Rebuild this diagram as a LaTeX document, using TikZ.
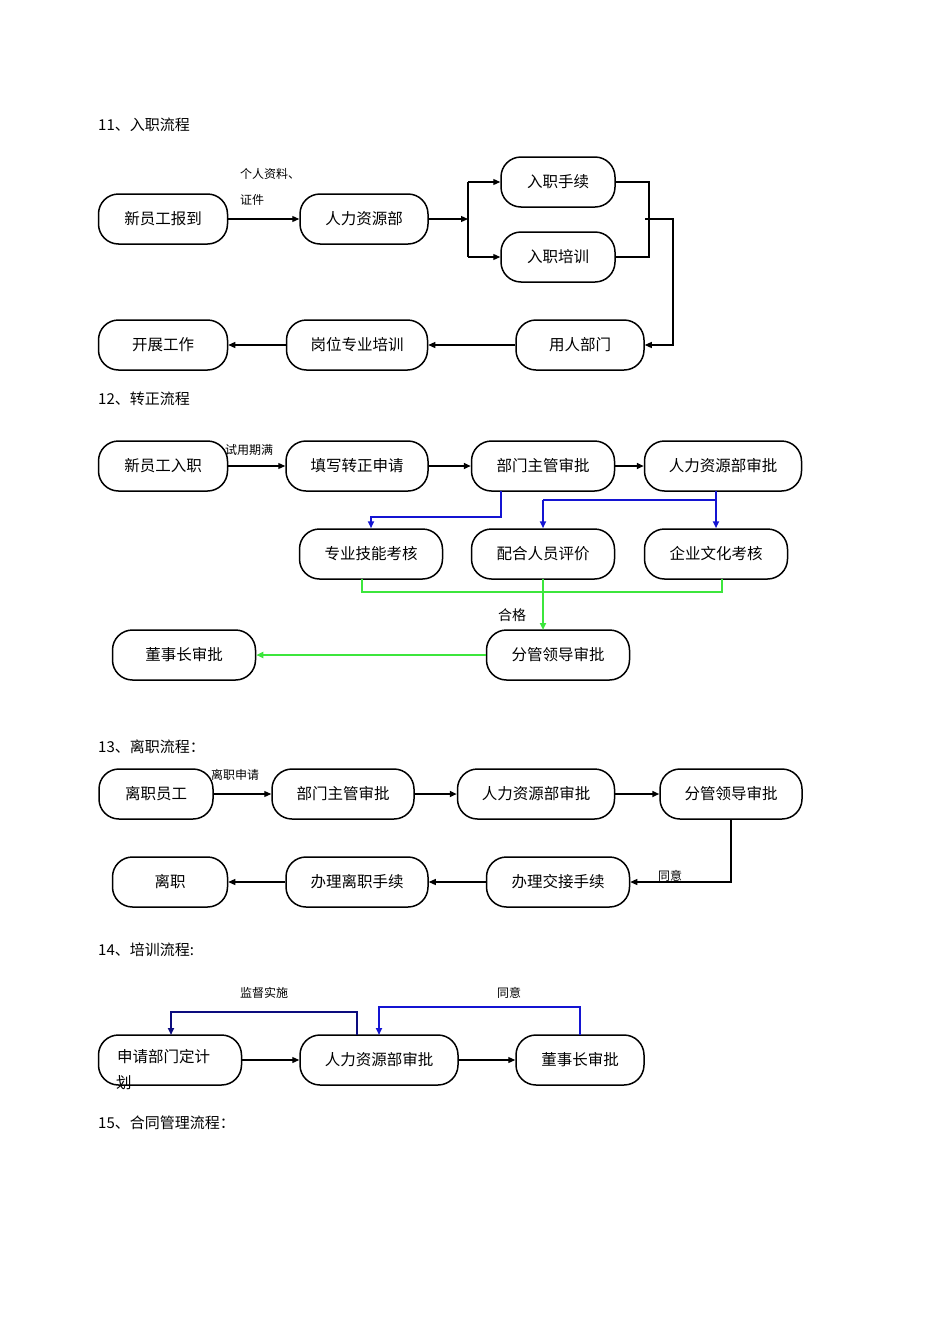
\documentclass[tikz,border=0pt]{standalone}
\usepackage{fontspec}
\setmainfont{Noto Sans CJK SC}
\usetikzlibrary{arrows.meta}
\definecolor{gr}{RGB}{60,230,60}
\definecolor{bl}{RGB}{20,20,210}
\begin{document}
\begin{tikzpicture}[x=1pt,y=-1pt,
 box/.style={draw,line width=1.5pt,rounded corners=20pt,minimum height=50pt,font=\fontsize{15.5}{15.5}\selectfont,inner sep=0pt},
 lab/.style={font=\fontsize{12}{12}\selectfont,anchor=west,inner sep=0pt},
 ttl/.style={font=\fontsize{15}{15}\selectfont,anchor=west,inner sep=0pt},
 ar/.style={-{Triangle[length=7pt,width=6pt]},line width=1.2pt},
 ln/.style={line width=1.2pt},
 cl/.style={line width=2pt}]
\useasboundingbox (0,0) rectangle (950,1344);
% 11
\node[ttl] (t11) at (98,125) {11、入职流程};
\node[box,minimum width=129pt] (a1) at (163,219) {新员工报到};
\node[box,minimum width=128pt] (a2) at (364,219) {人力资源部};
\node[box,minimum width=114pt] (a3) at (558,182) {入职手续};
\node[box,minimum width=114pt] (a4) at (558,257) {入职培训};
\node[box,minimum width=128pt] (a5) at (580,345) {用人部门};
\node[box,minimum width=141pt] (a6) at (357,345) {岗位专业培训};
\node[box,minimum width=129pt] (a7) at (163,345) {开展工作};
\node[lab] (l1) at (240,174) {个人资料、};
\node[lab] (l2) at (240,200) {证件};
\coordinate (j1) at (468,219);
\coordinate (j2) at (673,219);
\draw[ar] (a1) -- (a2);
\draw[ar] (a2.east) -- (j1);
\draw[ln] (468,182) -- (468,257);
\draw[ar] (468,182) -- (a3.west);
\draw[ar] (468,257) -- (a4.west);
\draw[ln] (a3.east) -- (649,182) -- (649,257) -- (a4.east);
\draw[ar] (645,219) -- (j2) |- (a5.east);
\draw[ar] (a5) -- (a6);
\draw[ar] (a6) -- (a7);
% 12
\node[ttl] (t12) at (98,399) {12、转正流程};
\node[box,minimum width=129pt] (b1) at (163,466) {新员工入职};
\node[box,minimum width=142pt] (b2) at (357,466) {填写转正申请};
\node[box,minimum width=143pt] (b3) at (543,466) {部门主管审批};
\node[box,minimum width=157pt] (b4) at (723,466) {人力资源部审批};
\node[box,minimum width=143pt] (b5) at (371,554) {专业技能考核};
\node[box,minimum width=143pt] (b6) at (543,554) {配合人员评价};
\node[box,minimum width=143pt] (b7) at (716,554) {企业文化考核};
\node[box,minimum width=143pt] (b8) at (558,655) {分管领导审批};
\node[box,minimum width=143pt] (b9) at (184,655) {董事长审批};
\node[lab] (l3) at (225,450) {试用期满};
\node[lab,font=\fontsize{14}{14}\selectfont] (l4) at (498,615) {合格};
\draw[ar] (b1) -- (b2);
\draw[ar,line width=1.6pt] (b2) -- (b3);
\draw[ar,line width=1.6pt] (b3) -- (b4);
\draw[ar,cl,bl] (501,491) -- (501,517) -- (371,517) -- (b5.north);
\draw[cl,bl] (716,491) -- (716,500) -- (543,500);
\draw[ar,cl,bl] (543,500) -- (b6.north);
\draw[ar,cl,bl] (716,500) -- (b7.north);
\draw[cl,gr] (362,579) -- (362,592) -- (722,592) -- (722,579);
\draw[ar,cl,gr] (543,579) -- (543,630);
\draw[ar,cl,gr] (b8) -- (b9);
% 13
\node[ttl] (t13) at (98,747) {13、离职流程：};
\node[box,minimum width=114pt] (c1) at (156,794) {离职员工};
\node[box,minimum width=142pt] (c2) at (343,794) {部门主管审批};
\node[box,minimum width=157pt] (c3) at (536,794) {人力资源部审批};
\node[box,minimum width=142pt] (c4) at (731,794) {分管领导审批};
\node[box,minimum width=115pt] (c5) at (170,882) {离职};
\node[box,minimum width=142pt] (c6) at (357,882) {办理离职手续};
\node[box,minimum width=143pt] (c7) at (558,882) {办理交接手续};
\node[lab] (l5) at (211,775) {离职申请};
\node[lab] (l6) at (658,876) {同意};
\draw[ar] (c1) -- (c2);
\draw[ar,line width=2pt] (c2) -- (c3);
\draw[ar,line width=1.6pt] (c3) -- (c4);
\draw[ar] (c4.south) |- (c7.east);
\draw[ar] (c7) -- (c6);
\draw[ar] (c6) -- (c5);
% 14
\node[ttl] (t14) at (98,950) {14、培训流程:};
\node[box,minimum width=143pt] (d1) at (170,1060) {};
\node[anchor=west,inner sep=0pt,font=\fontsize{15.5}{15.5}\selectfont] (d1t) at (117,1057) {申请部门定计};
\node[anchor=west,inner sep=0pt,font=\fontsize{15.5}{15.5}\selectfont] (d1u) at (116,1083) {划};
\node[box,minimum width=158pt] (d2) at (379,1060) {人力资源部审批};
\node[box,minimum width=128pt] (d3) at (580,1060) {董事长审批};
\node[lab] (l7) at (240,993) {监督实施};
\node[lab] (l8) at (497,993) {同意};
\draw[ar] (d1) -- (d2);
\draw[ar] (d2) -- (d3);
\draw[ar,cl,bl!60!black] (357,1035) -- (357,1012) -- (171,1012) -- (171,1035);
\draw[ar,cl,bl] (580,1035) -- (580,1007) -- (379,1007) -- (379,1035);
% 15
\node[ttl] (t15) at (98,1123) {15、合同管理流程：};
\end{tikzpicture}
\end{document}
